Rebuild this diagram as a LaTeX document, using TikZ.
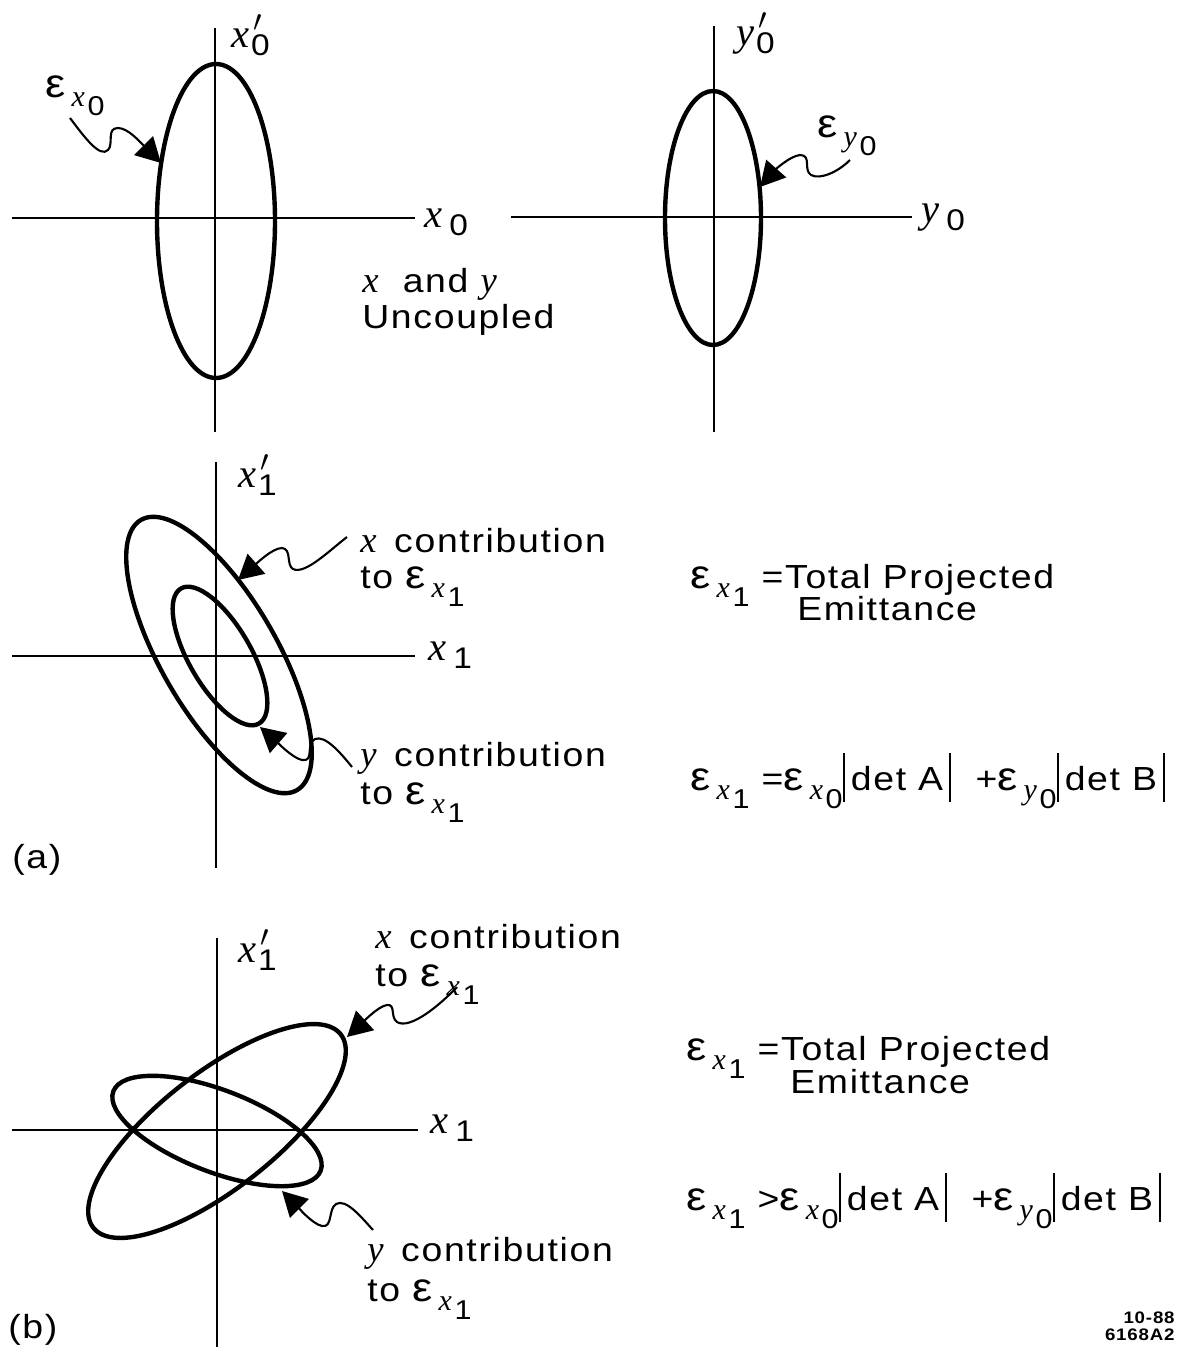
\documentclass[tikz,border=0pt]{standalone}
\usepackage{fontspec}
\setmainfont{Liberation Sans}[FakeStretch=1.12, LetterSpace=5]
\newfontfamily\varfont{Liberation Serif}[Scale=1.1]
\usetikzlibrary{arrows.meta}

\newcommand\vr[1]{{\varfont\itshape #1}}
\newcommand\txtsz{\fontsize{19}{22}\selectfont}
\newcommand\subsz{\fontsize{15.5}{15.5}\selectfont}
\newcommand\epsg{{\fontsize{23}{23}\selectfont ε}}
% emittance with its double subscript
\newcommand\emit[2]{\epsg\kern3.5pt\raisebox{-5.5pt}{\subsz\vr{#1}\kern1.5pt\raisebox{-5pt}{#2}}}
% axis labels
\newcommand\axl[2]{\vr{#1}\kern4pt\raisebox{-5pt}{\fontsize{17}{17}\selectfont #2}}
\newcommand\axp[2]{\vr{#1}\kern1pt\raisebox{-5pt}{\fontsize{17}{17}\selectfont\rlap{\raisebox{14pt}{\kern1.5pt$\prime$}}#2}}
\newcommand\detbar{\rule[-7pt]{1.5pt}{28pt}}

\begin{document}
\begin{tikzpicture}[x=0.02cm, y=-0.02cm,
  axis/.style={line width=1.4pt},
  orb/.style={line width=2.5pt},
  wig/.style={line width=1.2pt, -{Triangle[length=14pt, width=15pt]}},
  lbl/.style={inner sep=0pt, anchor=base west, font=\txtsz},
  axlbl/.style={inner sep=0pt, anchor=base west, font=\fontsize{21}{21}\selectfont},
  code/.style={inner sep=0pt, anchor=base east, font=\bfseries\fontsize{9.5}{11}\selectfont}]
  \useasboundingbox (0,0) rectangle (1186,1350);

  % x0 plane
  \draw[axis] (12,218) -- (415,218);
  \draw[axis] (215,28) -- (215,432);
  \draw[orb] (216,221) ellipse [x radius=59, y radius=157];
  \node[axlbl] (xp0) at (231,47) {\axp{x}{0}};
  \node[axlbl] (x0) at (424,227) {\axl{x}{0}};
  \node[lbl] (ex0) at (45,97) {\emit{x}{0}};
  \coordinate (ex0tail) at (70,118);
  \coordinate (ex0tip) at (161,163);
  \draw[wig] (ex0tail) .. controls (85,138) and (100,158) .. (108,150)
    .. controls (114,144) and (106,128) .. (118,128)
    .. controls (128,128) and (140,142) .. (ex0tip);

  % y0 plane
  \draw[axis] (511,217) -- (912,217);
  \draw[axis] (714,26) -- (714,432);
  \draw[orb] (713,218) ellipse [x radius=48, y radius=127];
  \node[axlbl] (yp0) at (736,45) {\axp{y}{0}};
  \node[axlbl] (y0) at (921,222) {\axl{y}{0}};
  \node[lbl] (ey0) at (817,137) {\emit{y}{0}};
  \coordinate (ey0tail) at (850,160);
  \coordinate (ey0tip) at (760,187);
  \draw[wig] (ey0tail) .. controls (838,172) and (820,180) .. (811,175)
    .. controls (803,170) and (812,155) .. (800,155)
    .. controls (790,156) and (775,170) .. (ey0tip);

  \node[lbl] (unc1) at (362,292) {\vr{x}\ \ and \vr{y}};
  \node[lbl] (unc2) at (362,328) {Uncoupled};

  % (a) projected, x and y parts nested
  \draw[axis] (12,656) -- (415,656);
  \draw[axis] (216,462) -- (216,868);
  \draw[orb, rotate around={-60:(219,655)}] (219,655) ellipse [x radius=156, y radius=58];
  \draw[orb, rotate around={-60:(220,656)}] (220,656) ellipse [x radius=78, y radius=31];
  \node[axlbl] (xp1a) at (238,487) {\axp{x}{1}};
  \node[axlbl] (x1a) at (428,660) {\axl{x}{1}};
  \node[lbl] (xca1) at (360,552) {\vr{x}\kern10pt contribution};
  \node[lbl] (xca2) at (360,588) {to \emit{x}{1}};
  \node[lbl] (yca1) at (360,766) {\vr{y}\kern10pt contribution};
  \node[lbl] (yca2) at (360,804) {to \emit{x}{1}};
  \coordinate (xatail) at (347,537);
  \coordinate (xatip) at (238,580);
  \draw[wig] (xatail) .. controls (330,550) and (305,575) .. (293,569)
    .. controls (286,565) and (292,549) .. (282,548)
    .. controls (272,548) and (255,565) .. (xatip);
  \coordinate (yatail) at (352,767);
  \coordinate (yatip) at (260,727);
  \draw[wig] (yatail) .. controls (340,752) and (325,735) .. (315,739)
    .. controls (305,744) and (315,762) .. (302,760)
    .. controls (292,758) and (275,740) .. (yatip);
  \node[lbl] (laba) at (12,868) {(a)};

  \node[lbl] (tpa1) at (690,588) {\emit{x}{1}\ =Total Projected};
  \node[lbl] (tpa2) at (797,620) {Emittance};
  \node[lbl] (eqa) at (690,790) {\emit{x}{1}\ =\emit{x}{0}\detbar\,det A\,\detbar\ \ +\emit{y}{0}\detbar\,det B\,\detbar};

  % (b) projected, crossed parts
  \draw[axis] (12,1130) -- (418,1130);
  \draw[axis] (217,938) -- (217,1347);
  \draw[orb, rotate around={38:(217,1131)}] (217,1131) ellipse [x radius=157, y radius=58];
  \draw[orb, rotate around={-21:(217,1131)}] (217,1131) ellipse [x radius=111, y radius=41];
  \node[axlbl] (xp1b) at (238,962) {\axp{x}{1}};
  \node[axlbl] (x1b) at (430,1133) {\axl{x}{1}};
  \node[lbl] (xcb1) at (375,948) {\vr{x}\kern10pt contribution};
  \node[lbl] (xcb2) at (375,986) {to \emit{x}{1}};
  \node[lbl] (ycb1) at (367,1261) {\vr{y}\kern10pt contribution};
  \node[lbl] (ycb2) at (367,1301) {to \emit{x}{1}};
  \coordinate (xbtail) at (457,987);
  \coordinate (xbtip) at (347,1037);
  \draw[wig] (xbtail) .. controls (440,1005) and (410,1030) .. (397,1022)
    .. controls (390,1017) and (396,1004) .. (387,1005)
    .. controls (378,1006) and (360,1025) .. (xbtip);
  \coordinate (ybtail) at (373,1230);
  \coordinate (ybtip) at (282,1191);
  \draw[wig] (ybtail) .. controls (362,1218) and (346,1198) .. (336,1204)
    .. controls (328,1209) and (333,1228) .. (322,1226)
    .. controls (312,1224) and (296,1205) .. (ybtip);
  \node[lbl] (labb) at (8,1338) {(b)};

  \node[lbl] (tpb1) at (686,1060) {\emit{x}{1}\ =Total Projected};
  \node[lbl] (tpb2) at (790,1093) {Emittance};
  \node[lbl] (eqb) at (686,1210) {\emit{x}{1}\ >\emit{x}{0}\detbar\,det A\,\detbar\ \ +\emit{y}{0}\detbar\,det B\,\detbar};

  \node[code] (dt) at (1175,1323) {10-88};
  \node[code] (fig) at (1175,1340) {6168A2};
\end{tikzpicture}
\end{document}
